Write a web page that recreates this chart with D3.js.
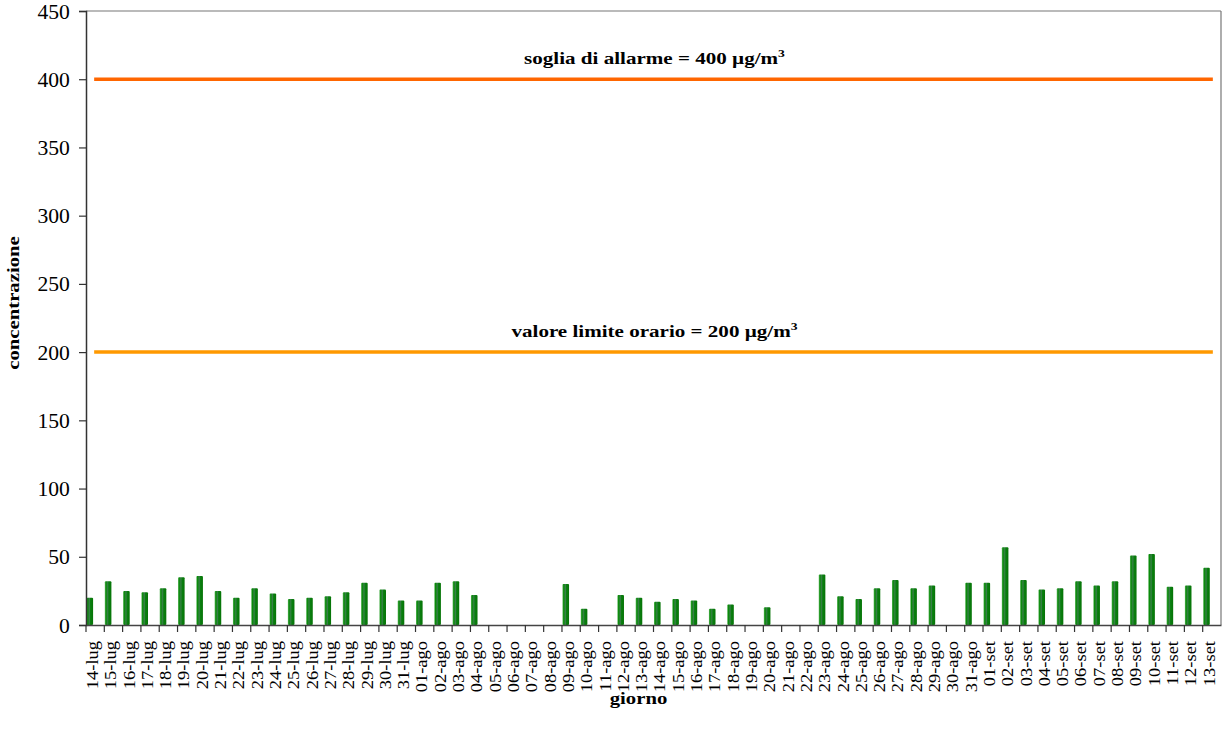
<!DOCTYPE html>
<html><head><meta charset="utf-8">
<script src="https://cdn.jsdelivr.net/npm/d3@7/dist/d3.min.js"></script>
<style>body{margin:0;background:#fff}svg{display:block}</style>
</head><body>
<svg id="c" width="1225" height="734"></svg>
<script>
const days = ["14-lug","15-lug","16-lug","17-lug","18-lug","19-lug","20-lug","21-lug","22-lug","23-lug","24-lug","25-lug","26-lug","27-lug","28-lug","29-lug","30-lug","31-lug",
"01-ago","02-ago","03-ago","04-ago","05-ago","06-ago","07-ago","08-ago","09-ago","10-ago","11-ago","12-ago","13-ago","14-ago","15-ago","16-ago","17-ago","18-ago","19-ago","20-ago","21-ago","22-ago","23-ago","24-ago","25-ago","26-ago","27-ago","28-ago","29-ago","30-ago","31-ago",
"01-set","02-set","03-set","04-set","05-set","06-set","07-set","08-set","09-set","10-set","11-set","12-set","13-set"];
const values = [20,32,25,24,27,35,36,25,20,27,23,19,20,21,24,31,26,18,
18,31,32,22,0,0,0,0,30,12,0,22,20,17,19,18,12,15,0,13,0,0,37,21,19,27,33,27,29,0,31,
31,57,33,26,27,32,29,32,51,52,28,29,42];
const yTicks = [0,50,100,150,200,250,300,350,400,450];
const thresholds = [
  {value:400, label:"soglia di allarme = 400 µg/m", color:"#ff6600"},
  {value:200, label:"valore limite orario = 200 µg/m", color:"#ff9900"}
];
const FONT = 'Liberation Serif';

const svg = d3.select("#c");
const L=86, R=1221, T=11, B=625;
const x = d3.scaleBand().domain(days).range([L,R]).padding(0);
const y = d3.scaleLinear().domain([0,450]).range([B,T]);

const defs = svg.append("defs");
const g = defs.append("linearGradient").attr("id","bar").attr("x1","0").attr("x2","1").attr("y1","0").attr("y2","0");
[[0,"#5fb85f"],[0.18,"#0a8a0a"],[0.45,"#3a7d4a"],[0.6,"#0a8010"],[1,"#067306"]].forEach(s=>g.append("stop").attr("offset",s[0]).attr("stop-color",s[1]));

// frame
svg.append("line").attr("x1",L).attr("x2",R).attr("y1",T).attr("y2",T).attr("stroke","#777").attr("stroke-width",1.2);
svg.append("line").attr("x1",R).attr("x2",R).attr("y1",T).attr("y2",B).attr("stroke","#777").attr("stroke-width",1.2);

// bars
const bw = x.bandwidth()*0.36;
svg.append("g").selectAll("rect").data(values).join("rect")
  .attr("x",(d,i)=>x(days[i])+0.5).attr("width",bw)
  .attr("y",d=>y(d)).attr("height",d=>B-y(d))
  .attr("rx",1)
  .attr("fill","url(#bar)");

// y axis
const ya = svg.append("g").attr("transform",`translate(${L},0)`)
  .call(d3.axisLeft(y).tickValues(yTicks).tickSize(7).tickPadding(8));
ya.select(".domain").attr("stroke","#333").attr("stroke-width",1.5);
ya.selectAll(".tick line").attr("stroke","#333").attr("stroke-width",1.2);
ya.selectAll(".tick text").style("font-family",FONT).style("font-size","20px").attr("fill","#000").attr("dy","0.35em")
  .attr("transform","scale(1.08,1)");

// x axis
const xa = svg.append("g").attr("transform",`translate(0,${B})`)
  .call(d3.axisBottom(x).tickSize(0).tickFormat(""));
xa.select(".domain").attr("stroke","#444").attr("stroke-width",1.5);
svg.append("g").selectAll("line").data(days).join("line")
  .attr("x1",d=>x(d)).attr("x2",d=>x(d)).attr("y1",B).attr("y2",B+7)
  .attr("stroke","#333").attr("stroke-width",1.2);
svg.append("g").selectAll("text").data(days).join("text")
  .attr("transform",d=>`translate(${x(d)+x.bandwidth()/2-3},${B+16}) rotate(-90) scale(1.12,1)`)
  .attr("text-anchor","end").attr("dy","0.35em")
  .style("font-family",FONT).style("font-size","16.5px").attr("fill","#000").text(d=>d);

// thresholds
thresholds.forEach(t=>{
  svg.append("line").attr("x1",x(days[0])+x.bandwidth()/2-1).attr("x2",x(days[days.length-1])+x.bandwidth()/2+1)
    .attr("y1",y(t.value)).attr("y2",y(t.value)).attr("stroke",t.color).attr("stroke-width",3.5);
  const tx = svg.append("text").attr("transform",`translate(${(L+R)/2+1},${y(t.value)-15}) scale(1.24,1)`)
    .attr("text-anchor","middle").style("font-family",FONT).style("font-weight","bold").style("font-size","17px").attr("fill","#000");
  tx.append("tspan").text(t.label);
  tx.append("tspan").attr("dy",-7).style("font-size","11px").text("3");
});

// axis titles
svg.append("text").attr("transform",`translate(${(L+R)/2-15},${704}) scale(1.22,1)`).attr("text-anchor","middle")
  .style("font-family",FONT).style("font-weight","bold").style("font-size","17px").text("giorno");
svg.append("text").attr("transform",`translate(19,${(T+B)/2-15}) rotate(-90) scale(1.22,1)`).attr("text-anchor","middle")
  .style("font-family",FONT).style("font-weight","bold").style("font-size","17px").text("concentrazione");
</script>
</body></html>
